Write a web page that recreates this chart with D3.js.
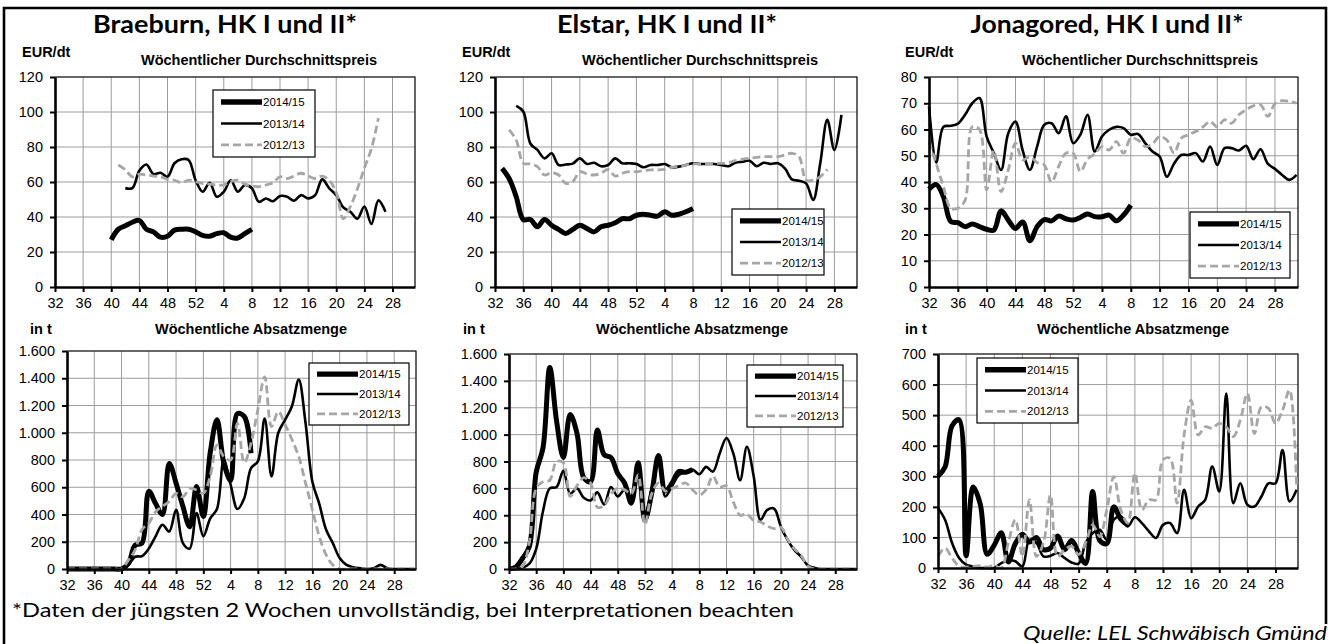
<!DOCTYPE html>
<html lang="de">
<head>
<meta charset="utf-8">
<title>Wöchentliche Preise und Absatzmengen</title>
<script src="https://cdn.jsdelivr.net/npm/d3@7"></script>
<style>
  body { margin: 0; background: #fff; }
  svg { display: block; }
  .axis text { font-family: "Liberation Sans", Arial, sans-serif; font-size: 14.5px; fill: #000; }
  .axis .domain { stroke: #000; stroke-width: 2.6; }
  .axis .tick line { stroke: #000; stroke-width: 2; }
  .grid line { stroke: #9c9c9c; stroke-width: 1; }
  .label { font-family: "Liberation Sans", Arial, sans-serif; font-size: 14.5px; font-weight: bold; }
  .legend text { font-family: "Liberation Sans", Arial, sans-serif; font-size: 11.5px; }
  .title { font-family: Lato, "Open Sans", sans-serif; font-weight: bold; font-size: 25px; }
  .note { font-family: Lato, "Open Sans", sans-serif; font-size: 19px; }
</style>
</head>
<body>
<svg id="chart" width="1328" height="644"></svg>
<script>
// Kalenderwochen der Saison (KW 32 bis KW 31 des Folgejahres)
const WEEKS = [32, 33, 34, 35, 36, 37, 38, 39, 40, 41, 42, 43, 44, 45, 46, 47, 48, 49, 50, 51, 52,
  1, 2, 3, 4, 5, 6, 7, 8, 9, 10, 11, 12, 13, 14, 15, 16, 17, 18, 19, 20,
  21, 22, 23, 24, 25, 26, 27, 28, 29, 30, 31];
const TICK_WEEKS = [32, 36, 40, 44, 48, 52, 4, 8, 12, 16, 20, 24, 28];
const SEASONS = ['2014/15', '2013/14', '2012/13'];

const VARIETIES = ['Braeburn, HK I und II*', 'Elstar, HK I und II*', 'Jonagored, HK I und II*'];

const PRICE_TICKS_120 = [0, 20, 40, 60, 80, 100, 120];
const PRICE_TICKS_80 = [0, 10, 20, 30, 40, 50, 60, 70, 80];
const VOLUME_TICKS_1600 = [0, 200, 400, 600, 800, 1000, 1200, 1400, 1600];
const VOLUME_TICKS_700 = [0, 100, 200, 300, 400, 500, 600, 700];

// Braeburn, EUR/dt
const braeburnPrice1415 = [null, null, null, null, null, null, null, null,
  27, 33, 35, 37, 38, 33, 31.5, 28.5, 29, 32.5, 33, 33, 31.5,
  29.5, 29, 30.5, 31, 28.5, 28, 30.5, 33];
const braeburnPrice1314 = [null, null, null, null, null, null, null, null, null, null,
  56.5, 56.5, 66.5, 70, 64.5, 65.3, 63, 70.7, 73, 72.6, 61,
  54.4, 59.6, 51.6, 54.4, 61, 54.4, 58.3, 56.4, 48.7, 50.6, 49, 52, 51.6, 49.3, 52.5, 50.6,
  52.5, 61.5, 56.4, 52.5, 45.5, 43, 39, 46, 36, 49.5, 43];
const braeburnPrice1213 = [null, null, null, null, null, null, null, null, null,
  69.7, 67, 63, 64.5, 64, 63.4, 63, 61.5, 61, 59.6, 61, 60.2,
  59.2, 58.8, 58.3, 58.3, 60.2, 61, 58.8, 57.7, 57.3, 58.3, 59.6, 63, 62, 63.4, 65, 63.4,
  62, 63.4, 61, 54, 39, 46, 56, 68, 79, 96.5];

// Braeburn, t
const braeburnVolume1415 = [0, 0, 0, 0, 0, 0, 0, 0, 0,
  40, 175, 190, 570, 480, 400, 775, 630, 460, 310, 605, 385,
  850, 1095, 780, 650, 1140, 1120, 850];
const braeburnVolume1314 = [0, 0, 0, 0, 0, 0, 0, 0, 0,
  30, 90, 95, 150, 240, 325, 275, 435, 190, 150, 410, 240,
  370, 440, 800, 620, 440, 520, 740, 790, 1105, 680, 1000, 1095, 1195, 1390, 1070, 640,
  480, 290, 190, 80, 30, 12, 5, 0, 5, 30, 5, 0, 0, 0, 0];
const braeburnVolume1213 = [0, 0, 0, 0, 0, 0, 0, 0, 0,
  65, 140, 290, 335, 420, 460, 495, 555, 530, 590, 580, 555,
  680, 910, 825, 800, 1070, 780, 925, 1170, 1410, 1045, 1155, 1060, 950, 825, 630, 435,
  240, 105, 30, 0, 0, 0, 0, 0, 0, 0, 0, 0, 0, 0, 0];

// Elstar, EUR/dt
const elstarPrice1415 = [null,
  67.8, 62, 51.6, 38.5, 38.6, 34.4, 38.6, 35.3, 32.9, 30.6, 32.9, 35.3, 33.4, 31.5, 34.4,
  35.3, 36.7, 39, 39, 41,
  41.6, 41, 40.5, 43, 41, 41.6, 43, 44.9];
const elstarPrice1314 = [null, null, null,
  103.5, 100.3, 82, 78.3, 73.5, 76.4, 69.7, 70, 70.5, 73.5, 70.3, 71, 69, 69.7, 73.5, 70.7,
  70.7, 70.3,
  68.4, 69.7, 69.7, 70.3, 68.4, 68.8, 69.7, 70.7, 70.3, 70.3, 70.3, 69.7, 69, 71, 71.6, 72.2,
  69, 71, 70.3, 70.7, 67.8, 61.5, 60.7, 59.2, 49.7, 70.7, 95.5, 78.3, 98.4];
const elstarPrice1213 = [null, null,
  89.8, 84, 70.7, 70.3, 68.8, 64, 65.3, 64, 59.2, 60.2, 65.9, 64.6, 64, 65, 67.2, 63.4, 65,
  65.9, 65.9,
  66.5, 66.9, 66.9, 67.2, 68.4, 68.8, 69.7, 70.3, 70.3, 70.3, 70.7, 70.7, 71.1, 72.2, 73, 73.5,
  74.1, 74.5, 74.5, 74.5, 75.5, 76.4, 74.5, 61.1, 61.1, 63, 67.2];

// Elstar, t
const elstarVolume1415 = [0, 15, 80, 170, 720, 900, 1500, 1100, 830, 1150, 1010, 680, 650, 1035,
  850, 830, 710, 640, 490, 790, 365,
  565, 845, 580, 640, 725, 720, 740];
const elstarVolume1314 = [0, 0, 10, 40, 150, 430, 600, 610, 730, 560, 600, 530, 510, 570, 480,
  610, 540, 590, 500, 760, 400,
  600, 820, 540, 620, 700, 720, 740, 705, 760, 725, 860, 975, 860, 660, 910, 690,
  365, 440, 450, 315, 215, 140, 90, 25, 8, 0, 0, 0, 0, 0, 0];
const elstarVolume1213 = [0, 0, 20, 200, 600, 650, 660, 800, 790, 540, 620, 680, 640, 460, 470,
  560, 600, 590, 560, 700, 330,
  560, 640, 580, 600, 620, 640, 590, 550, 590, 690, 610, 620, 500, 400, 410, 360,
  350, 320, 300, 310, 220, 150, 100, 20, 0, 0, 0, 0, 0, 0, 0];

// Jonagored, EUR/dt
const jonagoredPrice1415 = [37.2, 39, 34.4, 25, 24.5, 23, 24, 23, 22, 21.7, 29, 25.5, 22.3, 24.8,
  17.6, 23, 25.7, 25.2, 27, 26, 25.5,
  26.5, 27.8, 26.8, 26.8, 27.4, 25.2, 27.4, 31.2];
const jonagoredPrice1314 = [68.8, 47.4, 61, 61.4, 62.2, 65.6, 70, 72, 57.3, 51, 44.6, 58.6, 63,
  52, 44.6, 53.5, 61.8, 62.4, 58.6, 65, 54.8,
  58, 65.6, 51.6, 57.3, 59.9, 61, 60.5, 58, 58.3, 54.8, 51.6, 49.7, 42, 47, 50.3, 50.3,
  51, 47.8, 53.5, 46.5, 52.9, 52.9, 52, 53.8, 48.7, 52.5, 47, 45, 42.7, 40.8, 42.7];
const jonagoredPrice1213 = [55.4, 47, 38.2, 30, 30, 33, 61, 60, 37, 52, 36.3, 44.6, 54.8, 48.4,
  49.7, 47.4, 46.5, 40, 46, 51, 51,
  44, 48.7, 50.7, 53.5, 52.2, 55.4, 51, 56.7, 56, 53.5, 54.5, 57.3, 56, 51, 56.7, 58,
  59.2, 61, 63, 61, 63.7, 62.4, 65.6, 67.5, 69, 69.4, 65, 69.8, 71, 70.7, 70];

// Jonagored, t
const jonagoredVolume1415 = [300, 330, 465, 485, 40, 265, 210, 45, 75, 115, 20, 80, 110, 85, 100,
  60, 65, 105, 60, 90, 50,
  15, 250, 90, 80, 200, 160, 140];
const jonagoredVolume1314 = [196, 158, 82, 33, 11, 5, 0, 0, 0, 16, 25, 22, 5, 92, 82, 38, 40, 49,
  33, 18, 14,
  82, 114, 125, 92, 158, 169, 136, 166, 147, 120, 98, 141, 147, 114, 256, 163,
  201, 223, 332, 250, 571, 212, 277, 207, 201, 234, 277, 277, 386, 218, 256];
const jonagoredVolume1213 = [38, 65, 33, 5, 3, 5, 8, 3, 8, 0, 82, 158, 38, 223, 38, 82, 239, 38,
  60, 71, 44,
  82, 141, 103, 190, 299, 190, 147, 310, 190, 223, 223, 354, 359, 212, 435, 549,
  435, 462, 457, 473, 462, 430, 484, 571, 440, 527, 522, 473, 516, 582, 267];

const X_DOMAIN_END = 51.2;

const SERIES_STYLES = [
  { width: 5, color: '#000', dash: null, legendWidth: 5.4 },
  { width: 2.6, color: '#000', dash: null, legendWidth: 2.4 },
  { width: 2.8, color: '#a6a6a6', dash: '8,4', legendWidth: 2.8 }
];

const PRICE_HEAD = { unit: 'EUR/dt', unitY: 57, subtitle: 'Wöchentlicher Durchschnittspreis', subtitleY: 65 };
const VOLUME_HEAD = { unit: 'in t', unitY: 334, subtitle: 'Wöchentliche Absatzmenge', subtitleY: 334 };

const panels = [
  { plot: [55, 77, 415, 287], ticks: PRICE_TICKS_120, head: PRICE_HEAD, unitX: 22, subtitleX: 259,
    series: [braeburnPrice1415, braeburnPrice1314, braeburnPrice1213], legend: [213, 90, 102, 67] },
  { plot: [67, 351, 416, 569], ticks: VOLUME_TICKS_1600, head: VOLUME_HEAD, unitX: 30, subtitleX: 251,
    series: [braeburnVolume1415, braeburnVolume1314, braeburnVolume1213], legend: [309, 363, 100, 62] },
  { plot: [495, 77, 857, 287], ticks: PRICE_TICKS_120, head: PRICE_HEAD, unitX: 462, subtitleX: 700,
    series: [elstarPrice1415, elstarPrice1314, elstarPrice1213], legend: [732, 209, 92, 66] },
  { plot: [509, 354, 857, 569], ticks: VOLUME_TICKS_1600, head: VOLUME_HEAD, unitX: 463, subtitleX: 692,
    series: [elstarVolume1415, elstarVolume1314, elstarVolume1213], legend: [747, 365, 96, 62] },
  { plot: [929, 77, 1298, 287], ticks: PRICE_TICKS_80, head: PRICE_HEAD, unitX: 905, subtitleX: 1140,
    series: [jonagoredPrice1415, jonagoredPrice1314, jonagoredPrice1213], legend: [1190, 212, 100, 66] },
  { plot: [938, 354, 1298, 568], ticks: VOLUME_TICKS_700, head: VOLUME_HEAD, unitX: 905, subtitleX: 1133,
    series: [jonagoredVolume1415, jonagoredVolume1314, jonagoredVolume1213], legend: [977, 358, 101, 65] }
];

const TITLES = [
  { x: 225, width: 264 },
  { x: 667, width: 220 },
  { x: 1107, width: 273 }
];

const germanLocale = d3.formatLocale({ decimal: ',', thousands: '.', grouping: [3], currency: ['', ' €'] });
const formatNumber = germanLocale.format(',d');

const svg = d3.select('#chart');

svg.append('rect').attr('width', 1328).attr('height', 644).attr('fill', '#fff');

// Rahmen um das ganze Blatt
svg.append('path')
  .attr('d', 'M4,660V8H1326V624')
  .attr('fill', 'none')
  .attr('stroke', '#000')
  .attr('stroke-width', 2.6);

svg.selectAll('text.title')
  .data(VARIETIES)
  .join('text')
  .attr('class', 'title')
  .attr('x', (d, i) => TITLES[i].x)
  .attr('y', 33)
  .attr('text-anchor', 'middle')
  .attr('textLength', (d, i) => TITLES[i].width)
  .attr('lengthAdjust', 'spacingAndGlyphs')
  .text((d) => d);

function drawPanel(panel) {
  const [left, top, right, bottom] = panel.plot;
  const x = d3.scaleLinear().domain([0, X_DOMAIN_END]).range([left, right]);
  const y = d3.scaleLinear().domain([0, d3.max(panel.ticks)]).range([bottom, top]);
  const tickIndices = TICK_WEEKS.map((w) => WEEKS.indexOf(w));

  const g = svg.append('g').attr('class', 'panel');

  g.append('text')
    .attr('class', 'label')
    .attr('x', panel.unitX)
    .attr('y', panel.head.unitY)
    .text(panel.head.unit);

  g.append('text')
    .attr('class', 'label')
    .attr('x', panel.subtitleX)
    .attr('y', panel.head.subtitleY)
    .attr('text-anchor', 'middle')
    .text(panel.head.subtitle);

  const grid = g.append('g').attr('class', 'grid');
  grid.selectAll('line.h')
    .data(panel.ticks.slice(1))
    .join('line')
    .attr('class', 'h')
    .attr('x1', left).attr('x2', right)
    .attr('y1', (d) => y(d)).attr('y2', (d) => y(d));
  grid.selectAll('line.v')
    .data(tickIndices.slice(1))
    .join('line')
    .attr('class', 'v')
    .attr('x1', (d) => x(d)).attr('x2', (d) => x(d))
    .attr('y1', top).attr('y2', bottom);

  // obere und rechte Begrenzung
  g.append('path')
    .attr('d', `M${left},${top}H${right}V${bottom}`)
    .attr('fill', 'none')
    .attr('stroke', '#000')
    .attr('stroke-width', 1.2);

  const line = d3.line()
    .defined((d) => d != null)
    .x((d, i) => x(i))
    .y((d) => y(d))
    .curve(d3.curveCatmullRom);

  g.append('g')
    .attr('class', 'series')
    .selectAll('path')
    .data(panel.series)
    .join('path')
    .attr('fill', 'none')
    .attr('stroke', (d, i) => SERIES_STYLES[i].color)
    .attr('stroke-width', (d, i) => SERIES_STYLES[i].width)
    .attr('stroke-dasharray', (d, i) => SERIES_STYLES[i].dash)
    .attr('stroke-linejoin', 'round')
    .attr('d', line);

  g.append('g')
    .attr('class', 'axis')
    .attr('transform', `translate(${left},0)`)
    .call(d3.axisLeft(y).tickValues(panel.ticks).tickSizeInner(5).tickSizeOuter(0)
      .tickPadding(7).tickFormat(formatNumber));

  g.append('g')
    .attr('class', 'axis')
    .attr('transform', `translate(0,${bottom})`)
    .call(d3.axisBottom(x).tickValues(tickIndices).tickSizeInner(5).tickSizeOuter(0)
      .tickPadding(6).tickFormat((i) => WEEKS[i]));

  const [lx, ly, lw, lh] = panel.legend;
  const legend = g.append('g').attr('class', 'legend');
  legend.append('rect')
    .attr('x', lx).attr('y', ly).attr('width', lw).attr('height', lh)
    .attr('fill', '#fff').attr('stroke', '#000').attr('stroke-width', 1.2);

  const rows = legend.selectAll('g.row')
    .data(SEASONS)
    .join('g')
    .attr('class', 'row')
    .attr('transform', (d, i) => `translate(${lx + 8},${ly + lh * (0.18 + 0.32 * i)})`);
  rows.append('line')
    .attr('x1', 0).attr('x2', 41)
    .attr('stroke', (d, i) => SERIES_STYLES[i].color)
    .attr('stroke-width', (d, i) => SERIES_STYLES[i].legendWidth)
    .attr('stroke-dasharray', (d, i) => SERIES_STYLES[i].dash);
  rows.append('text')
    .attr('x', 42)
    .attr('dy', '0.35em')
    .text((d) => d);
}

panels.forEach(drawPanel);

svg.append('text')
  .attr('class', 'note')
  .attr('x', 12)
  .attr('y', 617)
  .attr('textLength', 782)
  .attr('lengthAdjust', 'spacingAndGlyphs')
  .text('*Daten der jüngsten 2 Wochen unvollständig, bei Interpretationen beachten');

svg.append('rect')
  .attr('x', 1010).attr('y', 626).attr('width', 318).attr('height', 18)
  .attr('fill', '#fff');

svg.append('text')
  .attr('class', 'note')
  .attr('x', 1327)
  .attr('y', 640)
  .attr('text-anchor', 'end')
  .attr('font-style', 'italic')
  .attr('textLength', 304)
  .attr('lengthAdjust', 'spacingAndGlyphs')
  .text('Quelle: LEL Schwäbisch Gmünd');
</script>
</body>
</html>
